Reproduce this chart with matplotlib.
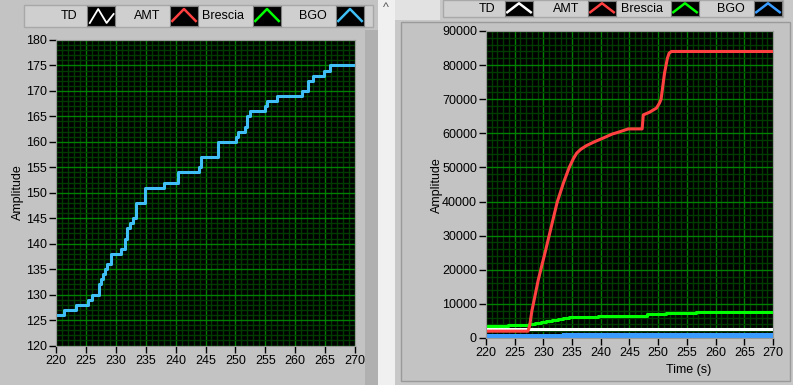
import matplotlib
matplotlib.use("Agg")
import matplotlib.pyplot as plt
from matplotlib.patches import Rectangle

# ---- data ----
series_names = ["TD", "AMT", "Brescia", "BGO"]

# left graph: BGO step trace
bgo_t = [220, 221.4, 223.3, 225.3, 226.0, 227.2, 227.6, 227.9, 228.2, 228.5,
         229.2, 230.8, 231.5, 231.9, 232.3, 232.8, 233.3, 234.8, 238.1, 240.4,
         243.9, 244.2, 247.1, 250.1, 250.4, 251.6, 251.9, 252.5, 254.9, 255.3,
         257.0, 261.1, 262.1, 263.0, 264.8, 265.8, 270]
bgo_v = [126, 127, 128, 129, 130, 132, 133, 134, 135, 136,
         138, 139, 141, 143, 144, 145, 148, 151, 152, 154,
         155, 157, 160, 161, 162, 163, 165, 166, 167, 168,
         169, 170, 172, 173, 174, 175, 175]

# right graph
amt_t = [220, 227.3, 227.6, 228.0, 229.1, 230.4, 231.5, 232.4, 233.5, 234.5,
         235.2, 235.8, 236.5, 237.5, 239.0, 240.4, 242.0, 243.0, 244.8, 247.2,
         247.4, 248.5, 249.7, 250.2, 250.5, 251.1, 251.6, 251.9, 252.3, 270]
amt_v = [2000, 2000, 3500, 8000, 17000, 25800, 33500, 39800, 45500, 50000,
         52500, 54200, 55300, 56400, 57600, 58600, 59800, 60300, 61300, 61300,
         65400, 66200, 67400, 68800, 70000, 77600, 82000, 83500, 84000, 84000]

brescia_t = [220, 223.9, 227.5, 228.5, 229.5, 230.5, 231.5, 232.5, 233.5, 234.5,
             235.5, 239.5, 248.0, 251.3, 256.5, 270]
brescia_v = [3500, 3800, 4100, 4400, 4700, 5000, 5300, 5600, 5900, 6100,
             6200, 6500, 6900, 7300, 7600, 7600]

td_t = [220, 270]
td_v = [2700, 2700]

bgo2_t = [220, 233.3, 270]
bgo2_v = [1100, 1400, 1400]

# ---- style ----
GRAY = "#c3c3c3"
C_TD, C_AMT, C_BRE = "white", "#ff4040", "#00ff00"
C_BGO_L, C_BGO_R = "#3fbff5", "#3b9cff"
W, H = 793, 385

plt.rcParams["font.family"] = ["Liberation Sans", "DejaVu Sans"]
fig = plt.figure(figsize=(W / 100, H / 100), dpi=100, facecolor=GRAY)


def box(x0, y0, x1, y1, **kw):
    # pixel coords, origin top-left; kept behind the axes
    fig.patches.append(Rectangle((x0 / W, 1 - y1 / H), (x1 - x0) / W, (y1 - y0) / H,
                                 transform=fig.transFigure, zorder=-10, **kw))


# panel frames
box(378, 0, 395, 385, facecolor="#f0f0f0", edgecolor="none")
box(365, 30, 378, 385, facecolor="#b0b0b0", edgecolor="none")
box(395, 0, 793, 385, facecolor="#c8c8c8", edgecolor="none")
box(401, 22, 790, 381, facecolor=GRAY, edgecolor="#9a9a9a", lw=1)
box(395, 0, 440, 20, facecolor="#e2e2e2", edgecolor="none")
fig.text(386 / W, 1 - 8 / H, "^", ha="center", va="center", fontsize=9, color="#555555")


def legend(x0, y0, x1, y1, texts_x, sw_x, colors, zig_first):
    box(x0, y0, x1, y1, facecolor="#cfcfcf", edgecolor="#a8a8a8", lw=1)
    for i, (name, tx, sx, c) in enumerate(zip(series_names, texts_x, sw_x, colors)):
        fig.text(tx / W, 1 - ((y0 + y1) / 2) / H, name, ha="center", va="center",
                 fontsize=9, color="black")
        sa = fig.add_axes([sx / W, 1 - (y1 - 1) / H, 28 / W, (y1 - y0 - 2) / H])
        sa.set_facecolor("black")
        sa.set_xticks([])
        sa.set_yticks([])
        for s in sa.spines.values():
            s.set_color("#808080")
        if i == 0 and zig_first:
            sa.plot([0.1, 0.4, 0.7, 0.95], [0.15, 0.85, 0.15, 0.6], color=c, lw=1.3)
        else:
            sa.plot([0.08, 0.5, 0.92], [0.25, 0.85, 0.25], color=c, lw=1.8)
        sa.set_xlim(0, 1)
        sa.set_ylim(0, 1)


legend(24, 5, 373, 27, [69, 147, 223, 313], [87, 170, 253, 336],
       [C_TD, C_AMT, C_BRE, C_BGO_L], True)
legend(443, 0, 783, 17, [487, 566, 642, 731], [505, 588, 671, 754],
       [C_TD, C_AMT, C_BRE, C_BGO_R], False)


def style_axes(ax, ymin, ymax, ymajor, yminor):
    ax.set_facecolor("black")
    ax.set_xlim(220, 270)
    ax.set_ylim(ymin, ymax)
    ax.set_xticks(range(220, 271, 5))
    ax.set_xticks(range(220, 271, 1), minor=True)
    ax.set_yticks(range(ymin, ymax + 1, ymajor))
    ax.set_yticks(range(ymin, ymax + 1, yminor), minor=True)
    ax.grid(which="minor", color="#003c00", lw=1)
    ax.grid(which="major", color="#008000", lw=1)
    ax.set_axisbelow(True)
    ax.tick_params(which="major", length=5, width=1, color="black", pad=1.5,
                   labelsize=9, labelcolor="black")
    ax.tick_params(which="minor", length=0)
    for s in ax.spines.values():
        s.set_color("#9a9a9a")


# left graph
axl = fig.add_axes([56 / W, 1 - 345.5 / H, 299 / W, 305.5 / H])
style_axes(axl, 120, 180, 5, 1)
axl.plot(bgo_t, bgo_v, drawstyle="steps-post", color=C_BGO_L, lw=2.2)
fig.text(18 / W, 1 - 192 / H, "Amplitude", rotation=90, ha="center", va="center", fontsize=9)

# right graph
axr = fig.add_axes([486 / W, 1 - 338 / H, 287 / W, 307 / H])
style_axes(axr, 0, 90000, 10000, 2000)
axr.fill_between(bgo2_t, 0, bgo2_v, step="post", color=C_BGO_R, lw=0)
axr.plot(td_t, td_v, color=C_TD, lw=2.2)
axr.plot(brescia_t, brescia_v, drawstyle="steps-post", color=C_BRE, lw=2.2)
axr.plot(amt_t, amt_v, color=C_AMT, lw=2.2)
fig.text(437 / W, 1 - 185 / H, "Amplitude", rotation=90, ha="center", va="center", fontsize=9)
fig.text(689 / W, 1 - 370 / H, "Time (s)", ha="center", va="center", fontsize=9)

fig.savefig("out.png", dpi=100, facecolor=GRAY)
